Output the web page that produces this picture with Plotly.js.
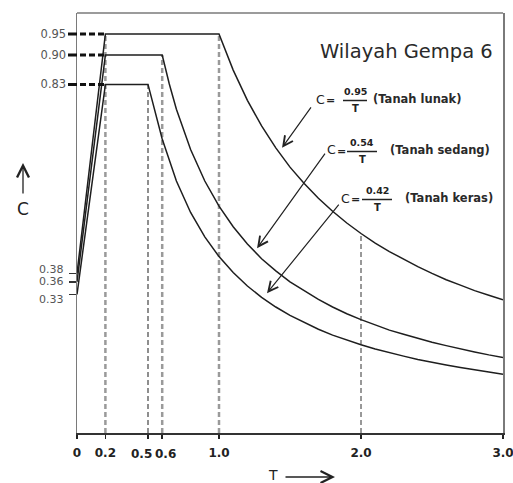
<!DOCTYPE html>
<html>
<head>
<meta charset="utf-8">
<script src="https://cdn.plot.ly/plotly-3.0.1.min.js"></script>
<style>
  html, body { margin: 0; padding: 0; background: #fff; }
  #chart { width: 513px; height: 483px; }
</style>
</head>
<body>
<div id="chart"></div>
<script>
// ---------------- data ----------------
// Tanah lunak (soft soil)
const T_soft = [0, 0.2, 1.0, 1.1, 1.2, 1.3, 1.4, 1.5, 1.6, 1.7, 1.8, 1.9, 2.0, 2.1, 2.2, 2.3, 2.4, 2.5, 2.6, 2.7, 2.8, 2.9, 3.0];
const C_soft = [0.38, 0.95, 0.95, 0.864, 0.792, 0.731, 0.679, 0.633, 0.594, 0.559, 0.528, 0.500, 0.475, 0.452, 0.432, 0.413, 0.396, 0.380, 0.365, 0.352, 0.339, 0.328, 0.317];
// Tanah sedang (medium soil)
const T_medium = [0, 0.2, 0.6, 0.65, 0.7, 0.8, 0.9, 1.0, 1.1, 1.2, 1.3, 1.4, 1.5, 1.6, 1.7, 1.8, 1.9, 2.0, 2.1, 2.2, 2.3, 2.4, 2.5, 2.6, 2.7, 2.8, 2.9, 3.0];
const C_medium = [0.36, 0.90, 0.90, 0.831, 0.771, 0.675, 0.600, 0.540, 0.491, 0.450, 0.415, 0.386, 0.360, 0.338, 0.318, 0.300, 0.284, 0.270, 0.257, 0.245, 0.235, 0.225, 0.216, 0.208, 0.200, 0.193, 0.186, 0.180];
// Tanah keras (hard soil)
const T_hard = [0, 0.2, 0.5, 0.55, 0.6, 0.7, 0.8, 0.9, 1.0, 1.1, 1.2, 1.3, 1.4, 1.5, 1.6, 1.7, 1.8, 1.9, 2.0, 2.1, 2.2, 2.3, 2.4, 2.5, 2.6, 2.7, 2.8, 2.9, 3.0];
const C_hard = [0.33, 0.83, 0.83, 0.764, 0.700, 0.600, 0.525, 0.467, 0.420, 0.382, 0.350, 0.323, 0.300, 0.280, 0.263, 0.247, 0.233, 0.221, 0.210, 0.200, 0.191, 0.183, 0.175, 0.168, 0.162, 0.156, 0.150, 0.145, 0.140];

// vertical reference lines (corner periods and the curve value there)
const cornerT = [0.2, 0.5, 0.6, 1.0, 2.0];
const cornerC = [0.95, 0.83, 0.90, 0.95, 0.475];

// plateau leader values
const plateauC = [0.95, 0.90, 0.83];

// tick labels
const xTickVals = [0, 0.2, 0.5, 0.6, 1.0, 2.0, 3.0];
const xTickText = ['0', '0.2', '0.5', '0.6', '1.0', '2.0', '3.0'];
const yTickVals = [0.33, 0.36, 0.38, 0.83, 0.90, 0.95];
const yTickText = ['0.33', '0.36', '0.38', '0.83', '0.90', '0.95'];

// formula labels
const formulaCoef = ['0.95', '0.54', '0.42'];
const soilNames = ['Tanah lunak', 'Tanah sedang', 'Tanah keras'];
const chartLabel = 'Wilayah Gempa 6';

// ---------------- drawing ----------------
const M = { l: 77, r: 10, t: 13, b: 50 };
const W = 513, H = 483;
const PW = W - M.l - M.r, PH = H - M.t - M.b;
const px = x => (x - M.l) / PW;          // pixel -> paper x
const py = y => (H - M.b - y) / PH;      // pixel -> paper y

const curveLine = { color: '#1e1e1e', width: 1.5 };
const traces = [];

// vertical dashed lines
const vStyles = [
  { color: '#9a9a9a', width: 2.5, dash: '5px,3px' },
  { color: '#6a6a6a', width: 1.5, dash: '5px,3px' },
  { color: '#9a9a9a', width: 2.5, dash: '5px,3px' },
  { color: '#9a9a9a', width: 2.5, dash: '5px,3px' },
  { color: '#333333', width: 1, dash: '5px,3px' }
];
cornerT.forEach((t, i) => {
  traces.push({ x: [t, t], y: [0, cornerC[i]], mode: 'lines', line: vStyles[i], hoverinfo: 'skip' });
});

traces.push({ x: T_soft, y: C_soft, mode: 'lines', line: curveLine, name: soilNames[0] });
traces.push({ x: T_medium, y: C_medium, mode: 'lines', line: curveLine, name: soilNames[1] });
traces.push({ x: T_hard, y: C_hard, mode: 'lines', line: curveLine, name: soilNames[2] });

const shapes = [];
// top frame line
shapes.push({ type: 'line', xref: 'paper', yref: 'paper', x0: 0, x1: 1, y0: 1, y1: 1, line: { color: '#7a7a7a', width: 1.5 } });
// thick dashed leaders from the axis to T=0.2
plateauC.forEach(c => {
  shapes.push({ type: 'line', xref: 'paper', yref: 'y', x0: px(68), x1: 0.2 / 3, y0: c, y1: c,
    line: { color: '#111', width: 3, dash: '9px,3px,6px,3px,6px,3px,6px,3px' } });
});

const annotations = [];
annotations.push({ xref: 'paper', yref: 'paper', x: px(406), y: py(51), text: chartLabel, showarrow: false,
  font: { family: 'DejaVu Sans', size: 19.5, color: '#2a2a2a' }, xanchor: 'center', yanchor: 'middle' });

// lower y tick labels are crowded: drawn as labels nudged apart (the ticks stay on the axis)
const lowerShift = { 0.38: 4, 0.36: 0, 0.33: -5 };
const yTickShown = yTickText.map((t, i) => (yTickVals[i] < 0.5 ? '' : t));
yTickVals.forEach((v, i) => {
  if (v < 0.5) {
    annotations.push({ xref: 'paper', yref: 'y', x: px(66), y: v, yshift: lowerShift[v], text: yTickText[i],
      showarrow: false, xanchor: 'right', yanchor: 'middle',
      font: { family: 'DejaVu Sans', size: 11, color: '#555' } });
  }
});

// crowded 0.5 / 0.6 x labels: placed side by side (the ticks stay on the axis)
const crowdX = { 0.5: { anchor: 'right', shift: 5 }, 0.6: { anchor: 'left', shift: -8 } };
const xTickShown = xTickText.map((t, i) => (crowdX[xTickVals[i]] ? '' : t));
xTickVals.forEach((v, i) => {
  const c = crowdX[v];
  if (c) {
    annotations.push({ xref: 'x', yref: 'paper', x: v, xshift: c.shift, y: py(454), text: xTickText[i],
      showarrow: false, xanchor: c.anchor, yanchor: 'middle', borderpad: 0,
      font: { family: 'DejaVu Sans', size: 12, color: '#222', weight: 'bold' } });
  }
});

// formula layouts (pixel positions)
const fpos = [
  { cx: 320, cy: 99, fx: 355, bw: 24, soilx: 371 },
  { cx: 331, cy: 150, fx: 362, bw: 30, soilx: 388 },
  { cx: 345, cy: 198, fx: 377, bw: 30, soilx: 403 }
];
const heads = [
  { x: 1.444, y: 0.679, ax: 30, ay: -42 },
  { x: 1.268, y: 0.440, ax: 69, ay: -96 },
  { x: 1.338, y: 0.333, ax: 73, ay: -90 }
];
fpos.forEach((p, i) => {
  annotations.push({ xref: 'paper', yref: 'paper', x: px(p.cx), y: py(p.cy), text: 'C', showarrow: false,
    font: { family: 'DejaVu Sans', size: 12.5, color: '#222' }, xanchor: 'center', yanchor: 'middle' });
  annotations.push({ xref: 'paper', yref: 'paper', x: px(p.cx + 10), y: py(p.cy + 1), text: '<b>=</b>', showarrow: false,
    font: { family: 'DejaVu Sans', size: 11, color: '#222' }, xanchor: 'center', yanchor: 'middle' });
  annotations.push({ xref: 'paper', yref: 'paper', x: px(p.fx), y: py(p.cy - 7.5), text: '<b>' + formulaCoef[i] + '</b>', showarrow: false,
    font: { family: 'DejaVu Sans', size: 9.5, color: '#222' }, xanchor: 'center', yanchor: 'middle' });
  annotations.push({ xref: 'paper', yref: 'paper', x: px(p.fx), y: py(p.cy + 9.5), text: '<b>T</b>', showarrow: false,
    font: { family: 'DejaVu Sans', size: 10, color: '#222' }, xanchor: 'center', yanchor: 'middle' });
  annotations.push({ xref: 'paper', yref: 'paper', x: px(p.soilx), y: py(p.cy), text: '<b>(' + soilNames[i] + ')</b>', showarrow: false,
    font: { family: 'DejaVu Sans', size: 11.5, color: '#2a2a2a' }, xanchor: 'left', yanchor: 'middle' });
  shapes.push({ type: 'line', xref: 'paper', yref: 'paper', x0: px(p.fx - p.bw / 2), x1: px(p.fx + p.bw / 2),
    y0: py(p.cy + 1.5), y1: py(p.cy + 1.5), line: { color: '#222', width: 1.5 } });
  const h = heads[i];
  annotations.push({ xref: 'x', yref: 'y', x: h.x, y: h.y, ax: h.ax, ay: h.ay, axref: 'pixel', ayref: 'pixel',
    text: '', showarrow: true, arrowhead: 5, arrowsize: 1.6, arrowwidth: 1.2, arrowcolor: '#222', standoff: 0 });
});

// axis titles with arrows
annotations.push({ xref: 'paper', yref: 'paper', x: px(23), y: py(209), text: 'C', showarrow: false,
  font: { family: 'DejaVu Sans', size: 17, color: '#222' }, xanchor: 'center', yanchor: 'middle' });
annotations.push({ xref: 'paper', yref: 'paper', x: px(23), y: py(163), ax: 0, ay: 32, axref: 'pixel', ayref: 'pixel',
  text: '', showarrow: true, arrowhead: 5, arrowsize: 1.8, arrowwidth: 1.3, arrowcolor: '#222', standoff: 0 });
annotations.push({ xref: 'paper', yref: 'paper', x: px(273), y: py(475), text: 'T', showarrow: false,
  font: { family: 'DejaVu Sans', size: 14, color: '#222' }, xanchor: 'center', yanchor: 'middle' });
annotations.push({ xref: 'paper', yref: 'paper', x: px(335), y: py(477), ax: -51, ay: 0, axref: 'pixel', ayref: 'pixel',
  text: '', showarrow: true, arrowhead: 5, arrowsize: 1.8, arrowwidth: 1.3, arrowcolor: '#222', standoff: 0 });

const layout = {
  width: W, height: H,
  margin: M,
  paper_bgcolor: '#fff', plot_bgcolor: '#fff',
  showlegend: false,
  xaxis: {
    range: [0, 3], tickmode: 'array', tickvals: xTickVals, ticktext: xTickShown, tickangle: 0,
    showgrid: false, zeroline: false, showline: true, linecolor: '#333', linewidth: 2,
    ticks: 'outside', ticklen: 4, tickwidth: 1.5, tickcolor: '#222',
    ticklabeloverflow: 'allow', ticklabelstandoff: 4,
    tickfont: { family: 'DejaVu Sans', size: 12, color: '#222', weight: 'bold' },
    fixedrange: true
  },
  yaxis: {
    range: [0, 1.0], tickmode: 'array', tickvals: yTickVals, ticktext: yTickShown,
    showgrid: false, zeroline: false, showline: true, mirror: true, linecolor: '#7a7a7a', linewidth: 1.5,
    ticks: 'outside', ticklen: 7, tickwidth: 1.5, tickcolor: '#333',
    tickfont: { family: 'DejaVu Sans', size: 11.5, color: '#555' },
    fixedrange: true
  },
  shapes: shapes,
  annotations: annotations
};

Plotly.newPlot('chart', traces, layout, { displayModeBar: false, staticPlot: true });
</script>
</body>
</html>
